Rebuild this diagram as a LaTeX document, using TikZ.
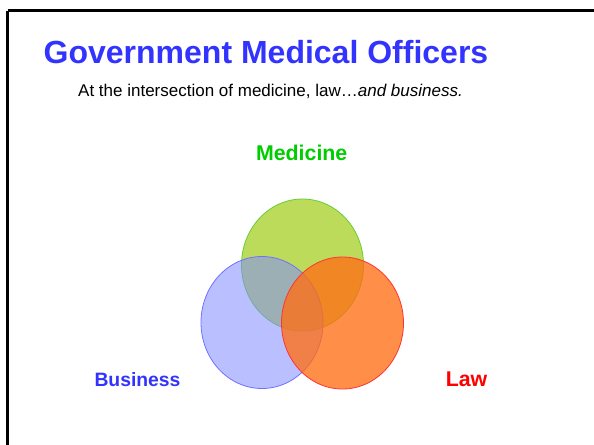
\documentclass[tikz,border=0pt]{standalone}
\usepackage{fontspec}
\setmainfont{Liberation Sans}
\usepackage{tikz}
\tikzset{every picture/.style={line width=0.75pt}}
\definecolor{titleblue}{RGB}{51,51,255}
\definecolor{medgreen}{RGB}{0,204,0}
\definecolor{lawred}{RGB}{255,0,0}
\definecolor{greenfill}{RGB}{160,204,20}
\definecolor{greenedge}{RGB}{102,204,51}
\definecolor{bluefill}{RGB}{130,140,255}
\definecolor{orangefill}{RGB}{255,110,20}
\tikzset{
  venn/.style={line width=0.6pt,fill opacity=0.7},
  label/.style={anchor=base,inner sep=0.75pt,font=\bfseries\fontsize{16}{19}\selectfont}
}

\begin{document}
\begin{tikzpicture}[x=0.75pt,y=0.75pt,yscale=-1]
\useasboundingbox (0,0) rectangle (594,444);

%Shape: Frame
\draw [line width=1.8pt] (7.5,10.5) -- (620,10.5) (7.5,10.5) -- (7.5,470) ;

%Shape: Ellipse [medicine]
\draw [venn,draw=greenedge,fill=greenfill] (302.5,265) ellipse (61 and 66) ;
%Shape: Ellipse [business]
\draw [venn,draw=titleblue!70,fill=bluefill,fill opacity=0.55] (262,322.5) ellipse (61 and 66) ;
%Shape: Ellipse [law]
\draw [venn,draw=lawred!80,fill=orangefill,fill opacity=0.78] (342.5,323) ellipse (61 and 66) ;

% Text Node
\node (title) at (266,63.3) [anchor=base,inner sep=0.75pt,color=titleblue,font=\bfseries\fontsize{24}{28}\selectfont] {Government Medical Officers};
% Text Node
\node (sub) at (270.5,96.7) [anchor=base,inner sep=0.75pt,font=\fontsize{12.75}{15}\selectfont] {At the intersection of medicine, law\ldots\textit{and business.}};
% Text Node
\node (medicine) at (301.7,160) [label,color=medgreen] {Medicine};
% Text Node
\node (business) at (137.5,386.7) [label,color=titleblue,font=\bfseries\fontsize{14.5}{17}\selectfont] {Business};
% Text Node
\node (law) at (466.5,386.7) [label,color=lawred] {Law};

\end{tikzpicture}
\end{document}
